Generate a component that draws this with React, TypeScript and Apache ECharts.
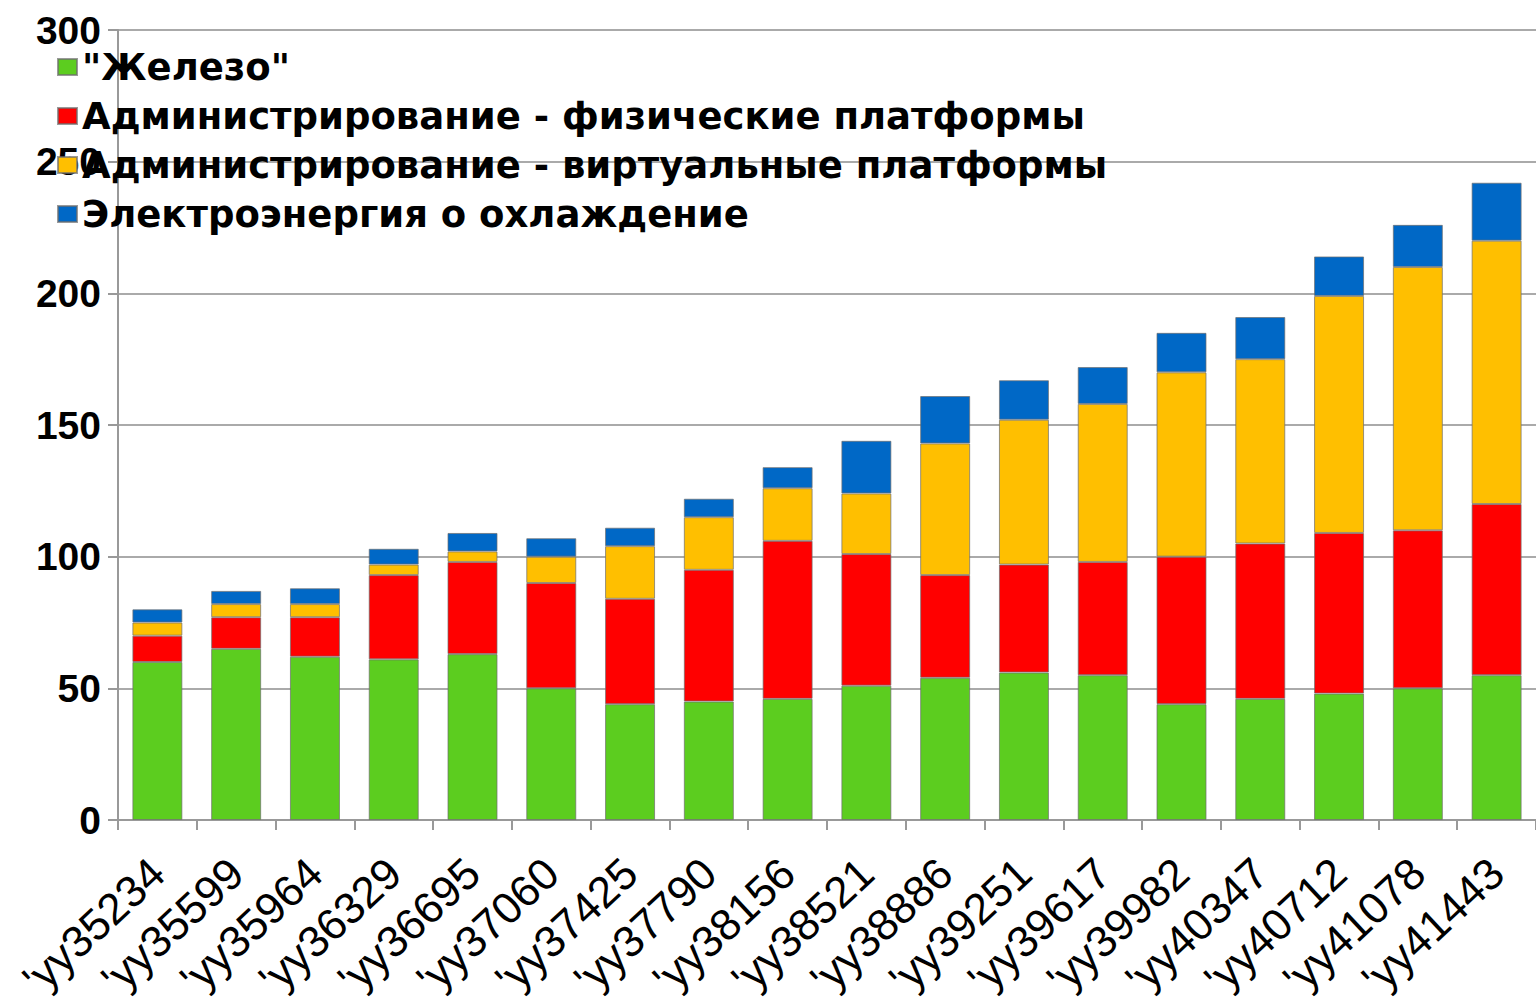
import React, { useEffect, useRef } from "react";
import * as echarts from "echarts";

const categories = [
  "'yy35234", "'yy35599", "'yy35964", "'yy36329", "'yy36695", "'yy37060",
  "'yy37425", "'yy37790", "'yy38156", "'yy38521", "'yy38886", "'yy39251",
  "'yy39617", "'yy39982", "'yy40347", "'yy40712", "'yy41078", "'yy41443",
];

const seriesNames = [
  '"Железо"',
  "Администрирование - физические платформы",
  "Администрирование - виртуальные платформы",
  "Электроэнергия о охлаждение",
];

const hardware = [60, 65, 62, 61, 63, 50, 44, 45, 46, 51, 54, 56, 55, 44, 46, 48, 50, 55];
const adminPhysical = [10, 12, 15, 32, 35, 40, 40, 50, 60, 50, 39, 41, 43, 56, 59, 61, 60, 65];
const adminVirtual = [5, 5, 5, 4, 4, 10, 20, 20, 20, 23, 50, 55, 60, 70, 70, 90, 100, 100];
const power = [5, 5, 6, 6, 7, 7, 7, 7, 8, 20, 18, 15, 14, 15, 16, 15, 16, 22];

const colors = ["#5ccd1f", "#ff0000", "#ffbf00", "#0068c6"];

const yMin = 0;
const yMax = 300;
const yInterval = 50;

export default function App() {
  const ref = useRef<HTMLDivElement>(null);
  useEffect(() => {
    if (!ref.current) return;
    const chart = echarts.init(ref.current, undefined, { renderer: "svg" });
    const values = [hardware, adminPhysical, adminVirtual, power];
    chart.setOption({
      animation: false,
      backgroundColor: "#ffffff",
      textStyle: { fontFamily: "Liberation Sans, Arial, sans-serif" },
      grid: { left: 118, top: 30, right: -9, bottom: 188, containLabel: false },
      legend: {
        orient: "vertical",
        left: 52,
        top: 41,
        itemWidth: 19,
        itemHeight: 16,
        itemGap: 7,
        icon: "rect",
        data: seriesNames,
        textStyle: {
          fontSize: 37,
          fontWeight: "bold",
          color: "#000",
          fontFamily: "DejaVu Sans, sans-serif",
          lineHeight: 42,
        },
      },
      xAxis: {
        type: "category",
        data: categories,
        axisLine: { show: true, lineStyle: { color: "#999", width: 2 } },
        axisTick: { show: true, length: 10, lineStyle: { color: "#999", width: 2 } },
        axisLabel: {
          rotate: 43,
          fontSize: 44,
          color: "#000",
          margin: 46,
          interval: 0,
          fontFamily: "Liberation Sans, Arial, sans-serif",
        },
      },
      yAxis: {
        type: "value",
        min: yMin,
        max: yMax,
        interval: yInterval,
        axisLine: { show: true, lineStyle: { color: "#999", width: 2 } },
        axisTick: { show: true, length: 10, lineStyle: { color: "#999", width: 2 } },
        splitLine: { show: true, lineStyle: { color: "#aaaaaa", width: 2 } },
        axisLabel: {
          fontSize: 39,
          fontWeight: "bold",
          color: "#000",
          margin: 17,
          fontFamily: "Liberation Sans, Arial, sans-serif",
        },
      },
      series: seriesNames.map((name, i) => ({
        name,
        type: "bar",
        stack: "total",
        barWidth: 50,
        data: values[i],
        itemStyle: {
          color: colors[i],
          borderColor: "rgba(110,110,110,0.7)",
          borderWidth: 1,
        },
      })),
    });
    return () => chart.dispose();
  }, []);
  return (
    <div
      ref={ref}
      style={{ position: "fixed", left: 0, top: 0, width: 1536, height: 1008 }}
    />
  );
}
